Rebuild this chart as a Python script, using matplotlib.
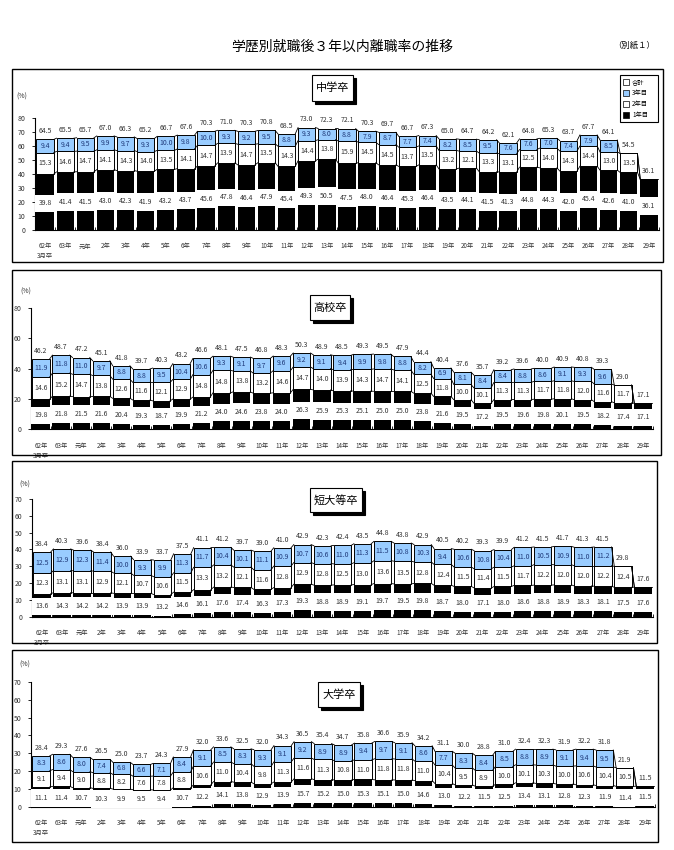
import numpy as np
import matplotlib
matplotlib.use('Agg')
import matplotlib.pyplot as plt
from matplotlib.patches import Rectangle

plt.rcParams['font.family'] = ['Noto Sans CJK JP', 'DejaVu Sans']

years = ['62年', '63年', '元年', '2年', '3年', '4年', '5年', '6年', '7年', '8年',
         '9年', '10年', '11年', '12年', '13年', '14年', '15年', '16年', '17年', '18年',
         '19年', '20年', '21年', '22年', '23年', '24年', '25年', '26年', '27年', '28年', '29年']
nan = np.nan

# 中学卒
chu_1 = [39.8, 41.4, 41.5, 43.0, 42.3, 41.9, 43.2, 43.7, 45.6, 47.8, 46.4, 47.9, 45.4, 49.3, 50.5,
         47.5, 48.0, 46.4, 45.3, 46.4, 43.5, 44.1, 41.5, 41.3, 44.8, 44.3, 42.0, 45.4, 42.6, 41.0, 36.1]
chu_2 = [15.3, 14.6, 14.7, 14.1, 14.3, 14.0, 13.5, 14.1, 14.7, 13.9, 14.7, 13.5, 14.3, 14.4, 13.8,
         15.9, 14.5, 14.5, 13.7, 13.5, 13.2, 12.1, 13.3, 13.1, 12.5, 14.0, 14.3, 14.4, 13.0, 13.5, nan]
chu_3 = [9.4, 9.4, 9.5, 9.9, 9.7, 9.3, 10.0, 9.8, 10.0, 9.3, 9.2, 9.5, 8.8, 9.3, 8.0,
         8.8, 7.9, 8.7, 7.7, 7.4, 8.2, 8.5, 9.5, 7.6, 7.6, 7.0, 7.4, 7.9, 8.5, nan, nan]
chu_t = [64.5, 65.5, 65.7, 67.0, 66.3, 65.2, 66.7, 67.6, 70.3, 71.0, 70.3, 70.8, 68.5, 73.0, 72.3,
         72.1, 70.3, 69.7, 66.7, 67.3, 65.0, 64.7, 64.2, 62.1, 64.8, 65.3, 63.7, 67.7, 64.1, 54.5, 36.1]

# 高校卒
kou_1 = [19.8, 21.8, 21.5, 21.6, 20.4, 19.3, 18.7, 19.9, 21.2, 24.0, 24.6, 23.8, 24.0, 26.3, 25.9,
         25.3, 25.1, 25.0, 25.0, 23.8, 21.6, 19.5, 17.2, 19.5, 19.6, 19.8, 20.1, 19.5, 18.2, 17.4, 17.1]
kou_2 = [14.6, 15.2, 14.7, 13.8, 12.6, 11.6, 12.1, 12.9, 14.8, 14.8, 13.8, 13.2, 14.6, 14.7, 14.0,
         13.9, 14.3, 14.7, 14.1, 12.5, 11.8, 10.0, 10.1, 11.3, 11.3, 11.7, 11.8, 12.0, 11.6, 11.7, nan]
kou_3 = [11.9, 11.8, 11.0, 9.7, 8.8, 8.8, 9.5, 10.4, 10.6, 9.3, 9.1, 9.7, 9.6, 9.2, 9.1,
         9.4, 9.9, 9.8, 8.8, 8.2, 6.9, 8.1, 8.4, 8.4, 8.8, 8.6, 9.1, 9.3, 9.6, nan, nan]
kou_t = [46.2, 48.7, 47.2, 45.1, 41.8, 39.7, 40.3, 43.2, 46.6, 48.1, 47.5, 46.8, 48.3, 50.3, 48.9,
         48.5, 49.3, 49.5, 47.9, 44.4, 40.4, 37.6, 35.7, 39.2, 39.6, 40.0, 40.9, 40.8, 39.3, 29.0, 17.1]

# 短大等卒
tan_1 = [13.6, 14.3, 14.2, 14.2, 13.9, 13.9, 13.2, 14.6, 16.1, 17.6, 17.4, 16.3, 17.3, 19.3, 18.8,
         18.9, 19.1, 19.7, 19.5, 19.8, 18.7, 18.0, 17.1, 18.0, 18.6, 18.8, 18.9, 18.3, 18.1, 17.5, 17.6]
tan_2 = [12.3, 13.1, 13.1, 12.9, 12.1, 10.7, 10.6, 11.5, 13.3, 13.2, 12.1, 11.6, 12.8, 12.9, 12.8,
         12.5, 13.0, 13.6, 13.5, 12.8, 12.4, 11.5, 11.4, 11.5, 11.7, 12.2, 12.0, 12.0, 12.2, 12.4, nan]
tan_3 = [12.5, 12.9, 12.3, 11.4, 10.0, 9.3, 9.9, 11.3, 11.7, 10.4, 10.1, 11.1, 10.9, 10.7, 10.6,
         11.0, 11.3, 11.5, 10.8, 10.3, 9.4, 10.6, 10.8, 10.4, 11.0, 10.5, 10.9, 11.0, 11.2, nan, nan]
tan_t = [38.4, 40.3, 39.6, 38.4, 36.0, 33.9, 33.7, 37.5, 41.1, 41.2, 39.7, 39.0, 41.0, 42.9, 42.3,
         42.4, 43.5, 44.8, 43.8, 42.9, 40.5, 40.2, 39.3, 39.9, 41.2, 41.5, 41.7, 41.3, 41.5, 29.8, 17.6]

# 大学卒
dai_1 = [11.1, 11.4, 10.7, 10.3, 9.9, 9.5, 9.4, 10.7, 12.2, 14.1, 13.8, 12.9, 13.9, 15.7, 15.2,
         15.0, 15.3, 15.1, 15.0, 14.6, 13.0, 12.2, 11.5, 12.5, 13.4, 13.1, 12.8, 12.3, 11.9, 11.4, 11.5]
dai_2 = [9.1, 9.4, 9.0, 8.8, 8.2, 7.6, 7.8, 8.8, 10.6, 11.0, 10.4, 9.8, 11.3, 11.6, 11.3,
         10.8, 11.0, 11.8, 11.8, 11.0, 10.4, 9.5, 8.9, 10.0, 10.1, 10.3, 10.0, 10.6, 10.4, 10.5, nan]
dai_3 = [8.3, 8.6, 8.0, 7.4, 6.8, 6.6, 7.1, 8.4, 9.1, 8.5, 8.3, 9.3, 9.1, 9.2, 8.9,
         8.9, 9.4, 9.7, 9.1, 8.6, 7.7, 8.3, 8.4, 8.5, 8.8, 8.9, 9.1, 9.4, 9.5, nan, nan]
dai_t = [28.4, 29.3, 27.6, 26.5, 25.0, 23.7, 24.3, 27.9, 32.0, 33.6, 32.5, 32.0, 34.3, 36.5, 35.4,
         34.7, 35.8, 36.6, 35.9, 34.2, 31.1, 30.0, 28.8, 31.0, 32.4, 32.3, 31.9, 32.2, 31.8, 21.9, 11.5]

BLUE = '#99ccff'
W, H = 674, 850
fig = plt.figure(figsize=(W / 100, H / 100), dpi=100)


def fx(px):
    return px / W


def fy(py):
    return 1 - py / H


def frame_rect(x0, y0, x1, y1, **kw):
    r = Rectangle((fx(x0), fy(y1)), (x1 - x0) / W, (y1 - y0) / H,
                  transform=fig.transFigure, **kw)
    fig.add_artist(r)


def panel(ax_px, frame, title, title_px, pct_px, ymax, ystep, v1, v2, v3, tot):
    left, right, y0, ytop = ax_px
    frame_rect(*frame, fill=False, ec='black', lw=1.0)
    ax = fig.add_axes([fx(left), fy(y0), (right - left) / W, (y0 - ytop) / H])
    ppu = (y0 - ytop) / ymax   # pixels per unit

    x = np.arange(len(years))
    a = np.array(v1)
    b = np.nan_to_num(np.array(v2))
    c = np.nan_to_num(np.array(v3))
    bw = 0.86

    ax.bar(x, a, bw, color='black', zorder=2)
    ax.bar(x, b, bw, bottom=a, color='white', edgecolor='black', lw=0.7, zorder=3)
    ax.bar(x, c, bw, bottom=a + b, color=BLUE, edgecolor='black', lw=0.7, zorder=3)

    # white label band over the 1年目 bar
    lo, hi = 10.0 / ppu, 7.5 / ppu
    for i in x:
        ax.add_patch(Rectangle((i - 0.5, a[i] / 2 - lo), 1.0, lo + hi,
                               fc='white', ec='none', zorder=2.6, clip_on=False))
        ax.text(i, a[i] / 2 - 1.0 / ppu, '%.1f' % a[i], ha='center', va='center',
                fontsize=5, color='#333333', zorder=4)
        if b[i] > 0:
            ax.text(i, a[i] + b[i] / 2, '%.1f' % b[i], ha='center', va='center',
                    fontsize=5, color='#333333', zorder=4)
        if c[i] > 0:
            ax.text(i, a[i] + b[i] + c[i] / 2, '%.1f' % c[i], ha='center', va='center',
                    fontsize=5, color='#1f3a7a', zorder=4)
        ax.annotate('%.1f' % tot[i], (i, a[i] + b[i] + c[i]), xytext=(0, 3),
                    textcoords='offset points', ha='center', va='bottom',
                    fontsize=5, color='#333333', zorder=4, annotation_clip=False)

    # series lines between bars
    for lev in (a, a + b, a + b + c):
        for i in range(len(x) - 1):
            ax.plot([i + bw / 2, i + 1 - bw / 2], [lev[i], lev[i + 1]],
                    color='black', lw=0.6, zorder=3)

    ax.set_xlim(-0.5, len(x) - 0.5)
    ax.set_ylim(0, ymax)
    ax.set_yticks(np.arange(0, ymax + 1, ystep))
    ax.set_xticks(x)
    ax.set_xticklabels(years)
    ax.set_xticks(np.arange(-0.5, len(x), 1.0), minor=True)
    ax.tick_params(axis='x', which='major', length=0, pad=9, labelsize=4.5, labelcolor='#333333')
    ax.tick_params(axis='x', which='minor', direction='in', length=2.5, width=0.6)
    ax.tick_params(axis='y', length=2, width=0.6, pad=5, labelsize=5, labelcolor='#333333')
    for s in ('top', 'right'):
        ax.spines[s].set_visible(False)
    ax.spines['left'].set_linewidth(0.8)
    ax.spines['bottom'].set_linewidth(0.8)
    ax.patch.set_visible(False)

    ax.annotate('3月卒', (0, 0), xycoords=('data', 'axes fraction'), xytext=(0, -19),
                textcoords='offset points', ha='center', va='center', fontsize=4.5,
                color='#333333')
    fig.text(fx(pct_px[0]), fy(pct_px[1]), '(%)', ha='center', va='center',
             fontsize=5, color='#333333')

    # panel title box with shadow
    tx0, ty0, tx1, ty1 = title_px
    frame_rect(tx0 + 3, ty0 + 3, tx1 + 3, ty1 + 3, fc='black', ec='black', lw=0.8)
    frame_rect(tx0, ty0, tx1, ty1, fc='white', ec='black', lw=0.8)
    fig.text(fx((tx0 + tx1) / 2), fy((ty0 + ty1) / 2), title, ha='center', va='center',
             fontsize=8)
    return ax


fig.text(fx(342), fy(47), '学歴別就職後３年以内離職率の推移', ha='center', va='center', fontsize=10)
fig.text(fx(634), fy(45), '（別紙１）', ha='center', va='center', fontsize=6)

panel((35, 659, 230, 117.7), (12, 69, 663, 262), '中学卒', (312, 75, 353, 101), (22, 97),
      80, 10, chu_1, chu_2, chu_3, chu_t)
panel((31, 653, 429.3, 307.7), (12, 270, 661, 455), '高校卒', (310, 295, 350, 320), (26, 292),
      80, 20, kou_1, kou_2, kou_3, kou_t)
panel((32, 653, 616.7, 499), (12, 461, 657, 643), '短大等卒', (310, 488, 362, 512), (25, 485),
      70, 10, tan_1, tan_2, tan_3, tan_t)
panel((31, 655, 806.7, 682), (12, 650, 658, 842), '大学卒', (318, 682, 360, 707), (25, 665),
      70, 10, dai_1, dai_2, dai_3, dai_t)

# legend in the first panel
frame_rect(620, 75, 658, 122, fc='white', ec='black', lw=0.8)
leg_names = ['合計', '3年目', '2年目', '1年目']
leg_colors = ['white', BLUE, 'white', 'black']
leg_y = [82, 93, 104, 115]
for name, col, ly in zip(leg_names, leg_colors, leg_y):
    frame_rect(623, ly - 3, 629, ly + 3, fc=col, ec='black', lw=0.5)
    fig.text(fx(632), fy(ly), name, ha='left', va='center', fontsize=4.5)

fig.savefig('out.png', dpi=100)
